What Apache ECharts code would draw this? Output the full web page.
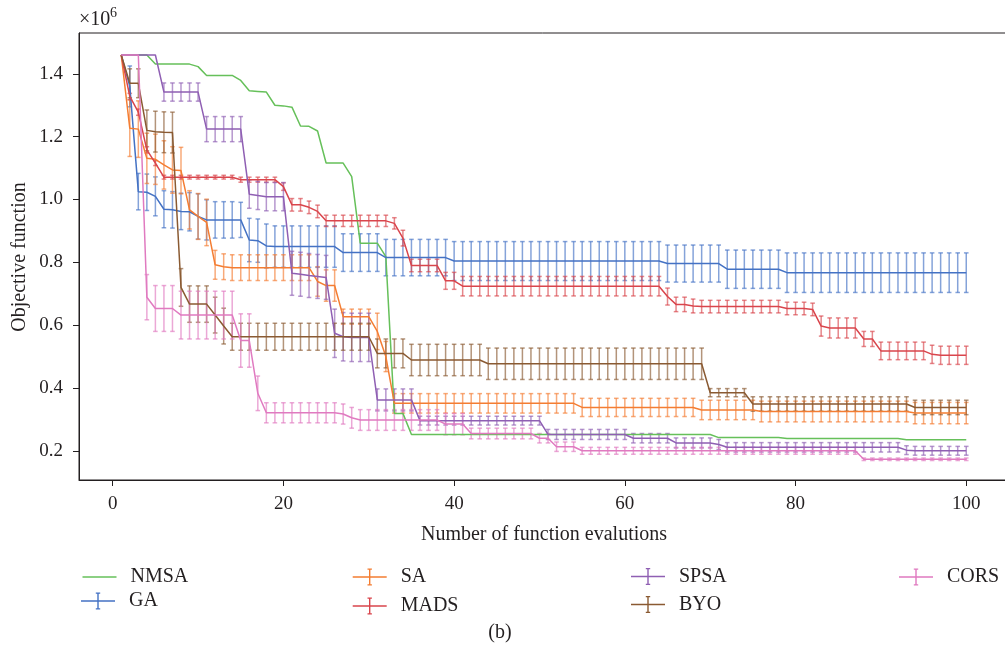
<!DOCTYPE html>
<html>
<head>
<meta charset="utf-8">
<script src="https://cdn.jsdelivr.net/npm/echarts@6/dist/echarts.min.js"></script>
<style>
html,body{margin:0;padding:0;background:#fff;}
#chart{width:1005px;height:655px;}
</style>
</head>
<body>
<div id="chart"></div>
<script>
// ---- data (values in units of 10^6) ----
const EVALS = [1,2,3,4,5,6,7,8,9,10,11,12,13,14,15,16,17,18,19,20,21,22,23,24,25,26,27,28,29,30,31,32,33,34,35,36,37,38,39,40,41,42,43,44,45,46,47,48,49,50,51,52,53,54,55,56,57,58,59,60,61,62,63,64,65,66,67,68,69,70,71,72,73,74,75,76,77,78,79,80,81,82,83,84,85,86,87,88,89,90,91,92,93,94,95,96,97,98,99,100];

const NMSA = [
1.46,1.46,1.46,1.46,1.431,1.431,1.431,1.431,1.431,1.423,
1.395,1.395,1.395,1.395,1.379,1.346,1.344,1.342,1.300,1.298,
1.294,1.234,1.233,1.218,1.116,1.116,1.116,1.073,0.861,0.861,
0.861,0.818,0.319,0.319,0.252,0.252,0.252,0.252,0.252,0.252,
0.252,0.252,0.252,0.252,0.252,0.252,0.252,0.252,0.252,0.252,
0.252,0.252,0.252,0.252,0.252,0.252,0.252,0.252,0.252,0.252,
0.252,0.252,0.252,0.252,0.252,0.252,0.252,0.252,0.252,0.252,
0.242,0.242,0.242,0.242,0.242,0.242,0.242,0.242,0.239,0.239,
0.239,0.239,0.239,0.239,0.239,0.239,0.239,0.239,0.239,0.239,
0.239,0.239,0.235,0.235,0.235,0.235,0.235,0.235,0.235,0.235];

const GA = [
1.46,1.36,1.025,1.023,1.010,0.969,0.967,0.962,0.961,0.946,
0.935,0.935,0.935,0.935,0.935,0.871,0.869,0.852,0.850,0.850,
0.850,0.850,0.850,0.850,0.850,0.850,0.831,0.831,0.831,0.831,
0.831,0.815,0.815,0.815,0.815,0.815,0.815,0.815,0.815,0.804,
0.804,0.804,0.804,0.804,0.804,0.804,0.804,0.804,0.804,0.804,
0.804,0.804,0.804,0.804,0.804,0.804,0.804,0.804,0.804,0.804,
0.804,0.804,0.804,0.804,0.796,0.796,0.796,0.796,0.796,0.796,
0.796,0.778,0.778,0.778,0.778,0.778,0.778,0.778,0.767,0.767,
0.767,0.767,0.767,0.767,0.767,0.767,0.767,0.767,0.767,0.767,
0.767,0.767,0.767,0.767,0.767,0.767,0.767,0.767,0.767,0.767];
const GA_ERR = [
0,0.065,0.058,0.058,0.062,0.059,0.058,0.058,0.061,0.072,
0.064,0.058,0.058,0.058,0.056,0.069,0.069,0.070,0.066,0.066,
0.066,0.066,0.066,0.066,0.066,0.066,0.060,0.060,0.060,0.060,
0.060,0.058,0.058,0.058,0.058,0.058,0.058,0.058,0.058,0.062,
0.062,0.062,0.062,0.062,0.062,0.062,0.062,0.062,0.062,0.062,
0.062,0.062,0.062,0.062,0.062,0.062,0.062,0.062,0.062,0.062,
0.062,0.062,0.062,0.062,0.059,0.059,0.059,0.059,0.059,0.059,
0.059,0.061,0.061,0.061,0.061,0.061,0.061,0.061,0.063,0.063,
0.063,0.063,0.063,0.063,0.063,0.063,0.063,0.063,0.063,0.063,
0.063,0.063,0.063,0.063,0.063,0.063,0.063,0.063,0.063,0.063];

const SA = [
1.46,1.227,1.224,1.131,1.128,1.110,1.094,1.092,0.967,0.946,
0.927,0.792,0.786,0.783,0.783,0.783,0.783,0.783,0.783,0.783,
0.783,0.783,0.783,0.739,0.726,0.726,0.627,0.627,0.627,0.627,
0.580,0.500,0.351,0.351,0.351,0.351,0.351,0.351,0.351,0.351,
0.351,0.351,0.351,0.351,0.351,0.351,0.351,0.351,0.351,0.351,
0.351,0.351,0.351,0.351,0.338,0.338,0.338,0.338,0.338,0.338,
0.338,0.338,0.338,0.338,0.338,0.338,0.338,0.338,0.330,0.330,
0.330,0.330,0.330,0.330,0.330,0.325,0.325,0.325,0.325,0.325,
0.325,0.325,0.325,0.325,0.325,0.325,0.325,0.325,0.325,0.325,
0.325,0.325,0.325,0.320,0.320,0.320,0.320,0.320,0.320,0.320];
const SA_ERR = [
0,0.090,0.090,0.080,0.080,0.077,0.074,0.074,0.061,0.073,
0.074,0.046,0.041,0.041,0.041,0.041,0.041,0.041,0.041,0.041,
0.041,0.041,0.041,0.047,0.050,0.050,0.024,0.024,0.024,0.024,
0.058,0.048,0.031,0.031,0.031,0.031,0.031,0.031,0.031,0.031,
0.031,0.031,0.031,0.031,0.031,0.031,0.031,0.031,0.031,0.031,
0.031,0.031,0.031,0.031,0.029,0.029,0.029,0.029,0.029,0.029,
0.029,0.029,0.029,0.029,0.029,0.029,0.029,0.029,0.031,0.031,
0.031,0.031,0.031,0.031,0.031,0.033,0.033,0.033,0.033,0.033,
0.033,0.033,0.033,0.033,0.033,0.033,0.033,0.033,0.033,0.033,
0.033,0.033,0.033,0.034,0.034,0.034,0.034,0.034,0.034,0.034];

const MADS = [
1.46,1.328,1.278,1.158,1.116,1.071,1.071,1.071,1.071,1.071,
1.071,1.071,1.071,1.071,1.063,1.063,1.063,1.063,1.063,1.041,
0.983,0.983,0.975,0.962,0.932,0.932,0.932,0.932,0.932,0.932,
0.932,0.932,0.924,0.877,0.790,0.790,0.790,0.790,0.741,0.741,
0.724,0.724,0.724,0.724,0.724,0.724,0.724,0.724,0.724,0.724,
0.724,0.724,0.724,0.724,0.724,0.724,0.724,0.724,0.724,0.724,
0.724,0.724,0.724,0.724,0.691,0.666,0.666,0.661,0.659,0.659,
0.659,0.659,0.659,0.659,0.659,0.659,0.659,0.659,0.653,0.653,
0.653,0.650,0.597,0.591,0.591,0.591,0.591,0.556,0.556,0.518,
0.518,0.518,0.518,0.518,0.518,0.507,0.504,0.504,0.504,0.504];
const MADS_ERR = [
0,0.010,0.010,0.010,0.008,0.006,0.006,0.006,0.006,0.006,
0.006,0.006,0.006,0.006,0.008,0.008,0.008,0.008,0.008,0.012,
0.020,0.020,0.020,0.020,0.018,0.018,0.018,0.018,0.018,0.018,
0.018,0.018,0.018,0.025,0.020,0.020,0.020,0.020,0.027,0.027,
0.031,0.031,0.031,0.031,0.031,0.031,0.031,0.031,0.031,0.031,
0.031,0.031,0.031,0.031,0.031,0.031,0.031,0.031,0.031,0.031,
0.031,0.031,0.031,0.031,0.027,0.023,0.023,0.022,0.020,0.020,
0.020,0.020,0.020,0.020,0.020,0.020,0.020,0.020,0.020,0.020,
0.020,0.020,0.032,0.032,0.032,0.032,0.032,0.024,0.024,0.028,
0.028,0.028,0.028,0.028,0.028,0.029,0.029,0.029,0.029,0.029];

const SPSA = [
1.46,1.46,1.46,1.46,1.46,1.342,1.342,1.342,1.342,1.342,
1.224,1.224,1.224,1.224,1.224,1.017,1.013,1.009,1.009,1.009,
0.765,0.762,0.758,0.755,0.752,0.574,0.563,0.561,0.561,0.561,
0.362,0.362,0.362,0.362,0.362,0.296,0.296,0.296,0.296,0.296,
0.296,0.296,0.296,0.296,0.296,0.296,0.296,0.296,0.296,0.296,
0.252,0.252,0.252,0.252,0.252,0.252,0.252,0.252,0.252,0.252,
0.240,0.240,0.240,0.240,0.240,0.225,0.225,0.225,0.225,0.225,
0.220,0.211,0.211,0.211,0.211,0.211,0.211,0.211,0.211,0.211,
0.211,0.211,0.211,0.211,0.211,0.211,0.211,0.211,0.211,0.211,
0.211,0.211,0.202,0.200,0.200,0.200,0.200,0.200,0.200,0.200];
const SPSA_ERR = [
0,0,0,0,0,0.029,0.029,0.029,0.029,0.029,
0.040,0.040,0.040,0.040,0.040,0.045,0.045,0.045,0.045,0.045,
0.070,0.070,0.070,0.070,0.070,0.077,0.077,0.077,0.077,0.077,
0.035,0.035,0.035,0.035,0.035,0.014,0.014,0.014,0.014,0.014,
0.014,0.014,0.014,0.014,0.014,0.014,0.014,0.014,0.014,0.014,
0.016,0.016,0.016,0.016,0.016,0.016,0.016,0.016,0.016,0.016,
0.015,0.015,0.015,0.015,0.015,0.016,0.016,0.016,0.016,0.016,
0.016,0.015,0.015,0.015,0.015,0.015,0.015,0.015,0.015,0.015,
0.015,0.015,0.015,0.015,0.015,0.015,0.015,0.015,0.015,0.015,
0.015,0.015,0.014,0.014,0.014,0.014,0.014,0.014,0.014,0.014];

const BYO = [
1.46,1.370,1.370,1.220,1.216,1.214,1.213,0.720,0.667,0.667,
0.667,0.632,0.597,0.563,0.563,0.563,0.563,0.563,0.563,0.563,
0.563,0.563,0.563,0.563,0.563,0.563,0.563,0.563,0.563,0.563,
0.510,0.510,0.510,0.510,0.489,0.489,0.489,0.489,0.489,0.489,
0.489,0.489,0.489,0.477,0.477,0.477,0.477,0.477,0.477,0.477,
0.477,0.477,0.477,0.477,0.477,0.477,0.477,0.477,0.477,0.477,
0.477,0.477,0.477,0.477,0.477,0.477,0.477,0.477,0.477,0.385,
0.385,0.385,0.385,0.385,0.349,0.349,0.349,0.349,0.349,0.349,
0.349,0.349,0.349,0.349,0.349,0.349,0.349,0.349,0.349,0.349,
0.349,0.349,0.349,0.338,0.338,0.338,0.338,0.338,0.338,0.338];
const BYO_ERR = [
0,0.046,0.046,0.065,0.065,0.065,0.065,0.060,0.058,0.058,
0.058,0.057,0.057,0.043,0.043,0.043,0.043,0.043,0.043,0.043,
0.043,0.043,0.043,0.043,0.043,0.043,0.043,0.043,0.043,0.043,
0.046,0.046,0.046,0.046,0.050,0.050,0.050,0.050,0.050,0.050,
0.050,0.050,0.050,0.050,0.050,0.050,0.050,0.050,0.050,0.050,
0.050,0.050,0.050,0.050,0.050,0.050,0.050,0.050,0.050,0.050,
0.050,0.050,0.050,0.050,0.050,0.050,0.050,0.050,0.050,0.013,
0.013,0.013,0.013,0.013,0.023,0.023,0.023,0.023,0.023,0.023,
0.023,0.023,0.023,0.023,0.023,0.023,0.023,0.023,0.023,0.023,
0.023,0.023,0.023,0.023,0.023,0.023,0.023,0.023,0.023,0.023];

const CORS = [
1.46,1.46,1.46,0.689,0.653,0.653,0.653,0.632,0.632,0.632,
0.632,0.632,0.632,0.632,0.551,0.551,0.383,0.321,0.321,0.321,
0.321,0.321,0.321,0.321,0.321,0.321,0.317,0.305,0.298,0.298,
0.298,0.298,0.298,0.298,0.298,0.298,0.298,0.298,0.285,0.285,
0.285,0.255,0.255,0.255,0.255,0.255,0.255,0.255,0.255,0.240,
0.240,0.213,0.213,0.213,0.200,0.200,0.200,0.200,0.200,0.200,
0.200,0.200,0.200,0.200,0.200,0.200,0.200,0.200,0.200,0.200,
0.200,0.200,0.200,0.200,0.200,0.200,0.200,0.200,0.200,0.200,
0.200,0.200,0.200,0.200,0.200,0.200,0.200,0.173,0.173,0.173,
0.173,0.173,0.173,0.173,0.173,0.173,0.173,0.173,0.173,0.173];
const CORS_ERR = [
0,0,0,0.072,0.073,0.073,0.073,0.076,0.076,0.076,
0.076,0.076,0.076,0.076,0.085,0.085,0.055,0.032,0.032,0.032,
0.032,0.032,0.032,0.032,0.032,0.032,0.032,0.033,0.033,0.033,
0.033,0.033,0.033,0.033,0.033,0.033,0.033,0.033,0.034,0.034,
0.034,0.017,0.017,0.017,0.017,0.017,0.017,0.017,0.017,0.015,
0.015,0.015,0.015,0.015,0.011,0.011,0.011,0.011,0.011,0.011,
0.011,0.011,0.011,0.011,0.011,0.011,0.011,0.011,0.011,0.011,
0.011,0.011,0.011,0.011,0.011,0.011,0.011,0.011,0.011,0.011,
0.011,0.011,0.011,0.011,0.011,0.011,0.011,0.004,0.004,0.004,
0.004,0.004,0.004,0.004,0.004,0.004,0.004,0.004,0.004,0.004];

const Y_TICKS = [0.2, 0.4, 0.6, 0.8, 1.0, 1.2, 1.4];
const X_TICKS = [0, 20, 40, 60, 80, 100];

// ---- styling ----
const FONT = '"Liberation Serif", "DejaVu Serif", serif';
const INK = '#231f20';
const COLORS = {
  NMSA: '#66c05a', GA: '#4472c4', SA: '#f47d32', MADS: '#d9454c',
  SPSA: '#8f5fb3', BYO: '#8a5a32', CORS: '#e07ac0'
};
const ICON_ERR = 'path://M0,7.8L34,7.8L34,9.2L0,9.2Z M16.3,0L17.7,0L17.7,17L16.3,17Z M14.8,0L19.2,0L19.2,1.3L14.8,1.3Z M14.8,15.7L19.2,15.7L19.2,17L14.8,17Z';

function lineSeries(name, vals) {
  return {
    name: name, type: 'line', showSymbol: false, symbol: 'none',
    data: EVALS.map((x, i) => [x, vals[i]]),
    lineStyle: { color: COLORS[name], width: 1.5 },
    itemStyle: { color: COLORS[name] },
    emphasis: { disabled: true }, silent: true, clip: true
  };
}
function errSeries(name, vals, errs) {
  const color = COLORS[name];
  return {
    name: name + ' err', type: 'custom', silent: true, clip: true,
    data: EVALS.map((x, i) => [x, vals[i] - errs[i], vals[i] + errs[i]]),
    encode: { x: 0, y: [1, 2] },
    renderItem: function (params, api) {
      const x = api.value(0), lo = api.value(1), hi = api.value(2);
      if (!(hi - lo > 1e-9)) return null;
      const a = api.coord([x, hi]), b = api.coord([x, lo]);
      const hw = 2.3;
      const st = { stroke: color, lineWidth: 1.5, opacity: 0.65 };
      return {
        type: 'group', children: [
          { type: 'line', shape: { x1: a[0], y1: a[1], x2: b[0], y2: b[1] }, style: st },
          { type: 'line', shape: { x1: a[0] - hw, y1: a[1], x2: a[0] + hw, y2: a[1] }, style: st },
          { type: 'line', shape: { x1: b[0] - hw, y1: b[1], x2: b[0] + hw, y2: b[1] }, style: st }
        ]
      };
    }
  };
}
function legendItem(name, left, centerY, isErr) {
  return {
    show: true, orient: 'vertical', left: left, top: centerY - 10, padding: 0,
    itemWidth: 34, itemHeight: isErr ? 17 : 1.5, itemGap: 0,
    selectedMode: false,
    textStyle: { fontFamily: FONT, fontSize: 20, color: INK, padding: [0, 0, 0, 9] },
    itemStyle: { borderWidth: 0 },
    data: [{ name: name, icon: isErr ? ICON_ERR : 'rect', itemStyle: { color: COLORS[name], borderWidth: 0 } }]
  };
}

const chart = echarts.init(document.getElementById('chart'), null, { renderer: 'canvas' });
chart.setOption({
  animation: false,
  backgroundColor: '#ffffff',
  grid: { left: 79, top: 33, width: 929.5, height: 447, outerBoundsMode: 'none', containLabel: false,
    show: true, borderColor: INK, borderWidth: 1, backgroundColor: 'transparent' },
  xAxis: {
    type: 'value', min: -3.95, max: 104.95,
    axisLine: { show: true, onZero: false, lineStyle: { color: INK, width: 1 } },
    axisTick: { show: true, length: 6, lineStyle: { color: INK }, customValues: X_TICKS },
    axisLabel: { customValues: X_TICKS, fontFamily: FONT, fontSize: 19, color: INK, margin: 15 },
    splitLine: { show: false }
  },
  yAxis: {
    type: 'value', min: 0.107, max: 1.53,
    axisLine: { show: true, onZero: false, lineStyle: { color: INK, width: 1 } },
    axisTick: { show: true, length: 6, lineStyle: { color: INK }, customValues: Y_TICKS },
    axisLabel: { customValues: Y_TICKS, fontFamily: FONT, fontSize: 19, color: INK, margin: 16,
      formatter: v => Number(v).toFixed(1) },
    splitLine: { show: false }
  },
  legend: [
    legendItem('NMSA', 82.5, 577, false),
    legendItem('GA', 81, 601, true),
    legendItem('SA', 352.7, 577, true),
    legendItem('MADS', 352.7, 606, true),
    legendItem('SPSA', 631, 576.5, true),
    legendItem('BYO', 631, 604.5, true),
    legendItem('CORS', 899, 577, true)
  ],
  graphic: [
    { type: 'text', x: 20, y: 257, rotation: Math.PI / 2,
      style: { text: 'Objective function', font: '20px ' + FONT, fill: INK, textAlign: 'center', textVerticalAlign: 'middle' } },
    { type: 'text', x: 544, y: 535,
      style: { text: 'Number of function evalutions', font: '20px ' + FONT, fill: INK, textAlign: 'center', textVerticalAlign: 'middle' } },
    { type: 'text', x: 79, y: 20,
      style: { text: '×10', font: '20px ' + FONT, fill: INK, textAlign: 'left', textVerticalAlign: 'middle' } },
    { type: 'text', x: 110, y: 13,
      style: { text: '6', font: '14px ' + FONT, fill: INK, textAlign: 'left', textVerticalAlign: 'middle' } },
    { type: 'text', x: 500, y: 633,
      style: { text: '(b)', font: '20px ' + FONT, fill: INK, textAlign: 'center', textVerticalAlign: 'middle' } }
  ],
  series: [
    lineSeries('NMSA', NMSA),
    errSeries('GA', GA, GA_ERR), lineSeries('GA', GA),
    errSeries('SA', SA, SA_ERR), lineSeries('SA', SA),
    errSeries('MADS', MADS, MADS_ERR), lineSeries('MADS', MADS),
    errSeries('SPSA', SPSA, SPSA_ERR), lineSeries('SPSA', SPSA),
    errSeries('BYO', BYO, BYO_ERR), lineSeries('BYO', BYO),
    errSeries('CORS', CORS, CORS_ERR), lineSeries('CORS', CORS)
  ]
});
</script>
</body>
</html>
